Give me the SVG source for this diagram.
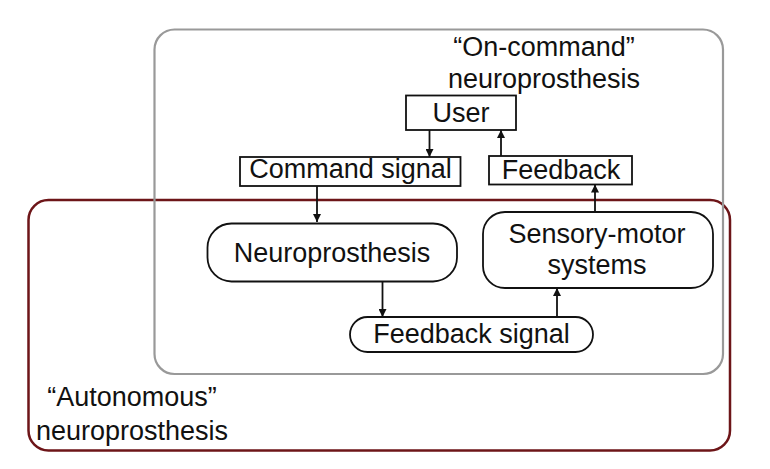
<svg xmlns="http://www.w3.org/2000/svg" width="770" height="469" viewBox="0 0 770 469">
<style>
text{font-family:"Liberation Sans",Arial,sans-serif;font-size:27px;fill:#111;text-anchor:middle}
.node{fill:#fff;stroke:#111;stroke-width:1.8}
.edge{stroke:#111;stroke-width:1.8;fill:none}
</style>
<defs>
<marker id="ah" viewBox="0 0 10 10" refX="10" refY="5" markerWidth="9" markerHeight="8" markerUnits="userSpaceOnUse" orient="auto">
<path d="M0,0 L10,5 L0,10 z" fill="#111"/>
</marker>
</defs>
<rect width="770" height="469" fill="#fff"/>
<g id="autonomous">
<rect x="28.5" y="200" width="701.5" height="250.5" rx="20" fill="none" stroke="#6d1518" stroke-width="2.5"/>
<text x="132" y="406">“Autonomous”</text>
<text x="132" y="440">neuroprosthesis</text>
</g>
<g id="on-command">
<rect x="154.5" y="29.5" width="568.5" height="344.5" rx="20" fill="none" stroke="#999" stroke-width="2.2"/>
<text x="544" y="56">“On-command”</text>
<text x="544" y="88">neuroprosthesis</text>
</g>
<g id="user">
<rect class="node" x="406" y="95.5" width="110" height="34.5"/>
<text x="461" y="122">User</text>
</g>
<g id="command-signal">
<rect class="node" x="240" y="157" width="220.5" height="29"/>
<text x="350.5" y="178">Command signal</text>
</g>
<g id="feedback">
<rect class="node" x="489" y="156" width="143" height="28.5"/>
<text x="561" y="178.5">Feedback</text>
</g>
<g id="neuroprosthesis">
<rect class="node" x="207.5" y="223.5" width="249.5" height="58" rx="24"/>
<text x="332" y="261.5">Neuroprosthesis</text>
</g>
<g id="sensory-motor">
<rect class="node" x="483" y="212" width="230" height="76" rx="22"/>
<text x="597" y="243">Sensory-motor</text>
<text x="597" y="274">systems</text>
</g>
<g id="feedback-signal">
<rect class="node" x="350" y="317" width="243" height="35" rx="17.5"/>
<text x="471.5" y="342.5">Feedback signal</text>
</g>
<g id="connectors">
<line class="edge" x1="429.5" y1="130" x2="429.5" y2="157" marker-end="url(#ah)"/>
<line class="edge" x1="501" y1="156" x2="501" y2="130" marker-end="url(#ah)"/>
<line class="edge" x1="317" y1="186" x2="317" y2="222" marker-end="url(#ah)"/>
<line class="edge" x1="382.5" y1="281.5" x2="382.5" y2="317" marker-end="url(#ah)"/>
<line class="edge" x1="557" y1="317" x2="557" y2="288" marker-end="url(#ah)"/>
<line class="edge" x1="595" y1="212" x2="595" y2="184.5" marker-end="url(#ah)"/>
</g>
</svg>
